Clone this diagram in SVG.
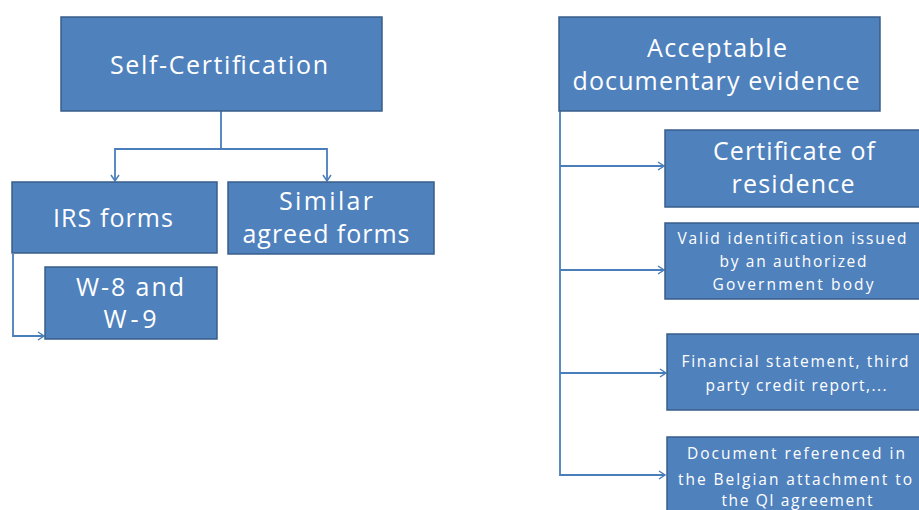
<svg xmlns="http://www.w3.org/2000/svg" width="919" height="510" viewBox="0 0 919 510">
<defs>
<style>
.box{fill:#4F81BD;stroke:#385D8A;stroke-width:1.5}
.t{fill:#fff;font-family:"Open Sans","Liberation Sans",sans-serif;text-anchor:middle;dominant-baseline:central}
.l{font-size:25px}
.s{font-size:15.5px}
.c{fill:none;stroke:#4A7EBB;stroke-width:1.8}
</style>
<marker id="a" markerWidth="10" markerHeight="10" refX="8" refY="5" orient="auto" markerUnits="userSpaceOnUse">
<path d="M2,1 L8,5 L2,9" fill="none" stroke="#4A7EBB" stroke-width="1.5"/>
</marker>
</defs>
<rect width="919" height="510" fill="#fff"/>
<g id="connectors">
<path class="c" d="M221,111 V149 H115 V181" marker-end="url(#a)"/>
<path class="c" d="M221,149 H327 V181" marker-end="url(#a)"/>
<path class="c" d="M13,254 V336 H44" marker-end="url(#a)"/>
<path class="c" d="M560,111 V475 H665" marker-end="url(#a)"/>
<path class="c" d="M560,166 H664" marker-end="url(#a)"/>
<path class="c" d="M560,270 H664" marker-end="url(#a)"/>
<path class="c" d="M560,373 H666" marker-end="url(#a)"/>
</g>
<g id="self-cert">
<rect class="box" x="61" y="17" width="321" height="94"/>
<text class="t l" x="219" y="64" textLength="218" lengthAdjust="spacing">Self-Certification</text>
</g>
<g id="irs">
<rect class="box" x="12" y="182" width="205" height="71"/>
<text class="t l" x="113" y="217" textLength="120" lengthAdjust="spacing">IRS forms</text>
</g>
<g id="similar">
<rect class="box" x="228" y="182" width="206" height="72"/>
<text class="t l" x="326" y="200" textLength="94" lengthAdjust="spacing">Similar</text>
<text class="t l" x="326" y="233" textLength="167" lengthAdjust="spacing">agreed forms</text>
</g>
<g id="w8">
<rect class="box" x="45" y="267" width="172" height="72"/>
<text class="t l" x="130" y="286" textLength="108" lengthAdjust="spacing">W-8 and</text>
<text class="t l" x="130" y="318" textLength="53" lengthAdjust="spacing">W-9</text>
</g>
<g id="acceptable">
<rect class="box" x="559" y="17" width="321" height="94"/>
<text class="t l" x="717" y="47" textLength="140" lengthAdjust="spacing">Acceptable</text>
<text class="t l" x="716" y="80" textLength="287" lengthAdjust="spacing">documentary evidence</text>
</g>
<g id="certificate">
<rect class="box" x="665" y="130" width="258" height="77"/>
<text class="t l" x="794" y="150" textLength="162" lengthAdjust="spacing">Certificate of</text>
<text class="t l" x="793" y="183" textLength="123" lengthAdjust="spacing">residence</text>
</g>
<g id="valid">
<rect class="box" x="665" y="223" width="258" height="76"/>
<text class="t s" x="792" y="238" textLength="229" lengthAdjust="spacing">Valid identification issued</text>
<text class="t s" x="793" y="261" textLength="147" lengthAdjust="spacing">by an authorized</text>
<text class="t s" x="793" y="284" textLength="161" lengthAdjust="spacing">Government body</text>
</g>
<g id="financial">
<rect class="box" x="667" y="334" width="256" height="76"/>
<text class="t s" x="795" y="361" textLength="227" lengthAdjust="spacing">Financial statement, third</text>
<text class="t s" x="796" y="385" textLength="181" lengthAdjust="spacing">party credit report,...</text>
</g>
<g id="document">
<rect class="box" x="667" y="437" width="256" height="80"/>
<text class="t s" x="796" y="453" textLength="218" lengthAdjust="spacing">Document referenced in</text>
<text class="t s" x="795" y="479" textLength="234" lengthAdjust="spacing">the Belgian attachment to</text>
<text class="t s" x="797" y="500" textLength="151" lengthAdjust="spacing">the QI agreement</text>
</g>
</svg>
